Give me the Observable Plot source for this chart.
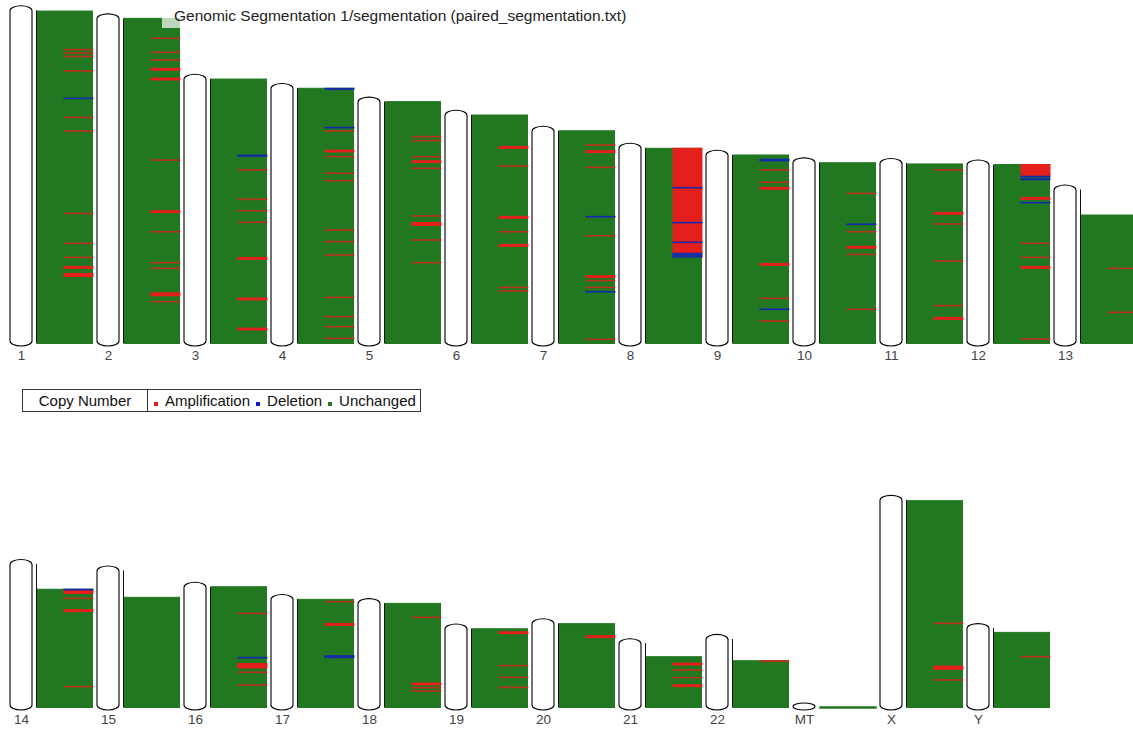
<!DOCTYPE html>
<html>
<head>
<meta charset="utf-8">
<script src="https://cdn.jsdelivr.net/npm/d3@7"></script>
<script src="https://cdn.jsdelivr.net/npm/@observablehq/plot@0.6"></script>
<style>
  body { margin: 0; background: #fff; overflow: hidden; font-family: "Liberation Sans", Arial, sans-serif; }
  #page { position: relative; width: 1133px; height: 729px; }
  #page svg { display: block; }
  #title {
    position: absolute; left: 162px; top: 4px; height: 24px; line-height: 24px;
    padding: 0 12px; background: rgba(255,255,255,0.7);
    font-size: 15.5px; color: #222; white-space: nowrap; z-index: 2;
  }
  #legend {
    position: absolute; left: 22px; top: 389px; width: 399px; height: 23px;
    border: 1px solid #333; display: flex; font-size: 15px; color: #111;
    line-height: 21px; background: #fff; z-index: 2; box-sizing: border-box;
  }
  #legend .head { width: 124px; text-align: center; border-right: 1px solid #333; }
  #legend .items { padding-left: 6px; white-space: nowrap; }
  #legend .sq { display: inline-block; width: 4px; height: 4px; margin: 0 7px 0 6px; }
  #legend .sq:first-child { margin-left: 0; }
</style>
</head>
<body>
<div id="page">
  <div id="chart"></div>
  <div id="title">Genomic Segmentation 1/segmentation (paired_segmentation.txt)</div>
  <div id="legend"></div>
</div>
<script>
// Chromosomes, their lengths (Mb, hg19) and the position of the first probe (Mb)
const chromosomes   = ["1","2","3","4","5","6","7","8","9","10","11","12","13",
                       "14","15","16","17","18","19","20","21","22","MT","X","Y"];
const chromLengthMb = [249.25, 243.2, 198.0, 191.15, 180.9, 171.1, 159.1, 146.4, 141.2, 135.5, 135.0, 133.85, 115.2,
                       107.35, 102.5, 90.35, 81.2, 78.1, 59.1, 63.0, 48.1, 51.3, 0.0166, 155.3, 59.4];
const firstProbeMb  = [0.6, 0, 0.2, 0.25, 0, 0.2, 0, 0.4, 0.2, 0.3, 0.7, 0, 19.1,
                       18.9, 20.1, 0, 0.3, 0.2, 0.2, 0.3, 10.1, 16.3, 0, 0.6, 3.2];
const rowLayout = [
  ["1","2","3","4","5","6","7","8","9","10","11","12","13"],
  ["14","15","16","17","18","19","20","21","22","MT","X","Y"]
];

// Copy-number segments: [chromosome, start Mb, end Mb]
const amplifications = [
  ["1",29.2,29.6],["1",31.8,32.2],["1",34.4,34.8],["1",45.2,45.6],["1",79.9,80.3],["1",90.1,90.5],
  ["1",151.7,152.1],["1",174.1,174.5],["1",184.6,185.0],["1",191.6,193.0],["1",196.9,199.1],
  ["2",14.7,15.1],["2",25.2,25.6],["2",31.0,31.4],["2",37.4,38.8],["2",44.7,46.1],["2",105.8,106.2],
  ["2",143.9,145.3],["2",159.4,159.8],["2",182.6,183.0],["2",186.8,187.2],["2",205.3,207.5],["2",211.7,212.1],
  ["3",68.0,68.4],["3",89.9,90.3],["3",98.5,98.9],["3",107.1,107.5],["3",133.6,135.0],["3",164.0,165.4],["3",186.5,187.9],
  ["4",32.0,32.4],["4",46.5,47.9],["4",51.2,51.6],["4",63.6,64.0],["4",69.2,69.6],["4",106.1,106.5],["4",114.8,115.2],
  ["4",124.8,125.2],["4",156.4,156.8],["4",170.9,171.3],["4",178.4,178.8],["4",187.1,187.5],
  ["5",26.0,26.4],["5",29.0,29.4],["5",41.0,41.4],["5",44.2,45.6],["5",49.7,50.1],["5",85.3,85.7],["5",90.4,92.6],
  ["5",103.3,103.7],["5",120.3,120.7],
  ["6",23.7,25.1],["6",38.1,38.5],["6",76.0,77.4],["6",87.3,87.7],["6",97.0,98.4],["6",128.9,129.3],["6",131.6,132.0],
  ["7",10.4,10.8],["7",14.9,16.3],["7",27.1,27.5],["7",78.3,78.7],["7",108.4,109.8],["7",111.9,112.3],["7",116.9,117.3],
  ["7",155.8,156.2],
  ["8",0.4,78.7],
  ["9",11.2,11.6],["9",20.4,20.8],["9",24.4,25.8],["9",81.3,82.7],["9",107.2,107.6],["9",124.2,124.6],
  ["10",23.0,23.4],["10",51.7,52.1],["10",62.8,64.2],["10",68.6,69.0],["10",109.7,110.1],
  ["11",5.0,5.4],["11",36.9,38.3],["11",45.4,45.8],["11",73.1,73.5],["11",106.5,106.9],["11",115.5,116.9],
  ["12",0,8.3],["12",24.6,26.0],["12",58.7,59.1],["12",69.2,69.6],["12",76.2,77.6],["12",130.3,130.7],
  ["13",58.8,59.2],["13",91.7,92.1],
  ["14",19.6,22.0],["14",25.5,25.9],["14",34.2,35.6],["14",91.6,92.0],
  ["16",19.7,20.1],["16",57.5,60.8],["16",63.8,64.2],["16",73.3,73.7],
  ["17",1.9,2.3],["17",18.3,19.7],
  ["18",10.4,10.8],["18",59.8,61.2],["18",63.1,63.5],["18",65.6,66.0],
  ["19",2.5,3.9],["19",27.6,28.0],["19",36.3,36.7],["19",43.8,44.2],
  ["20",9.3,10.7],
  ["21",14.9,16.3],["21",19.9,20.3],["21",25.6,26.0],["21",31.1,32.5],
  ["22",16.3,16.9],
  ["X",92.1,92.5],["X",124.3,126.7],["X",134.5,134.9],
  ["Y",21.2,21.6]
];
const deletions = [
  ["1",65.7,66.1],
  ["3",57.1,57.9],
  ["4",0.3,1.0],["4",29.5,29.9],
  ["7",64.1,64.5],["7",120.2,120.6],
  ["8",29.7,30.1],["8",55.8,56.2],["8",70.5,70.9],["8",78.9,81.8],
  ["9",3.4,4.6],["9",115.4,115.8],
  ["10",46.1,46.5],
  ["12",8.8,9.3],["12",10.7,11.3],["12",28.3,28.7],
  ["14",18.9,19.4],
  ["16",52.9,53.3],
  ["17",42.5,43.9]
];

const colors = {amplification: "#ee1b1b", deletion: "#1426b4", unchanged: "#217821"};
const pxPerMb = 1.337;
const slotWidth = 87;

const chromTable = chromosomes.map((name, i) => ({
  name, length: chromLengthMb[i], first: firstProbeMb[i]
}));
const lengthOf = new Map(chromTable.map(d => [d.name, d.length]));

// Positions are measured from the p-terminus; ideograms stand on a common
// baseline, so the vertical value is the distance from the q-terminus.
function segmentTable(list) {
  return list.map(([chrom, start, end]) => ({
    chrom, span: end - start,
    top: lengthOf.get(chrom) - start,
    bottom: lengthOf.get(chrom) - end
  }));
}
const ampTable = segmentTable(amplifications);
const delTable = segmentTable(deletions);

function drawRow(names, baseline, height) {
  const inRow = d => names.includes(d);
  const chroms = chromTable.filter(d => inRow(d.name));
  const amps = ampTable.filter(d => inRow(d.chrom));
  const dels = delTable.filter(d => inRow(d.chrom));
  const segInset = {insetLeft: 54, insetRight: 4};
  return Plot.plot({
    width: 1133,
    height,
    margin: 0,
    style: {fontFamily: "Liberation Sans, Arial, sans-serif", background: "transparent"},
    x: {type: "band", domain: names, range: [10, 10 + slotWidth * names.length], padding: 0, axis: null},
    y: {domain: [0, 250], range: [baseline, baseline - 250 * pxPerMb], axis: null},
    marks: [
      // ideograms
      Plot.barY(chroms, {
        x: "name", y1: 0, y2: "length",
        insetLeft: 0, insetRight: slotWidth - 22, insetTop: -4.5, insetBottom: -2.5,
        rx: 11, ry: 5, fill: "white", stroke: "#000", strokeWidth: 1.1
      }),
      // chromosome extent beside the data track
      Plot.barY(chroms, {
        x: "name", y1: 0, y2: "length",
        insetLeft: 26, insetRight: slotWidth - 27, fill: "#111"
      }),
      // unchanged copy number over the probed region (tiny genomes still get a visible strip)
      Plot.barY(chroms, {
        x: "name", y1: 0, y2: d => d.length - d.first,
        insetLeft: 27.5, insetRight: 4.5,
        fill: colors.unchanged, stroke: colors.unchanged,
        strokeWidth: d => (d.length - d.first < 1 ? 2.5 : 1)
      }),
      // amplified segments
      Plot.barY(amps.filter(d => d.span < 1), {
        x: "chrom", y1: "bottom", y2: "top", ...segInset,
        fill: colors.amplification, stroke: colors.amplification, strokeWidth: 1.2,
        fillOpacity: 0.6, strokeOpacity: 0.6
      }),
      Plot.barY(amps.filter(d => d.span >= 1), {
        x: "chrom", y1: "bottom", y2: "top", ...segInset,
        fill: colors.amplification, stroke: colors.amplification, strokeWidth: 1,
        fillOpacity: 0.95, strokeOpacity: 0.95
      }),
      // deleted segments
      Plot.barY(dels, {
        x: "chrom", y1: "bottom", y2: "top", ...segInset,
        fill: colors.deletion, stroke: colors.deletion, strokeWidth: 1.2,
        fillOpacity: 0.85, strokeOpacity: 0.85
      }),
      // chromosome names under the ideograms
      Plot.text(names, {
        x: d => d, y: 0, text: d => d,
        dx: 11 - slotWidth / 2, dy: 11.5, lineAnchor: "middle",
        fontSize: 13.5, fill: "#444"
      })
    ]
  });
}

const chart = document.getElementById("chart");
chart.appendChild(drawRow(rowLayout[0], 343.5, 370));
chart.appendChild(drawRow(rowLayout[1], 337.5, 359));

// legend
const legendItems = [
  {label: "Amplification", color: colors.amplification},
  {label: "Deletion", color: "#1414c8"},
  {label: "Unchanged", color: colors.unchanged}
];
const legend = document.getElementById("legend");
legend.innerHTML = `<div class="head">Copy Number</div><div class="items">` +
  legendItems.map(d => `<span class="sq" style="background:${d.color}"></span>${d.label}`).join("") +
  `</div>`;
</script>
</body>
</html>
